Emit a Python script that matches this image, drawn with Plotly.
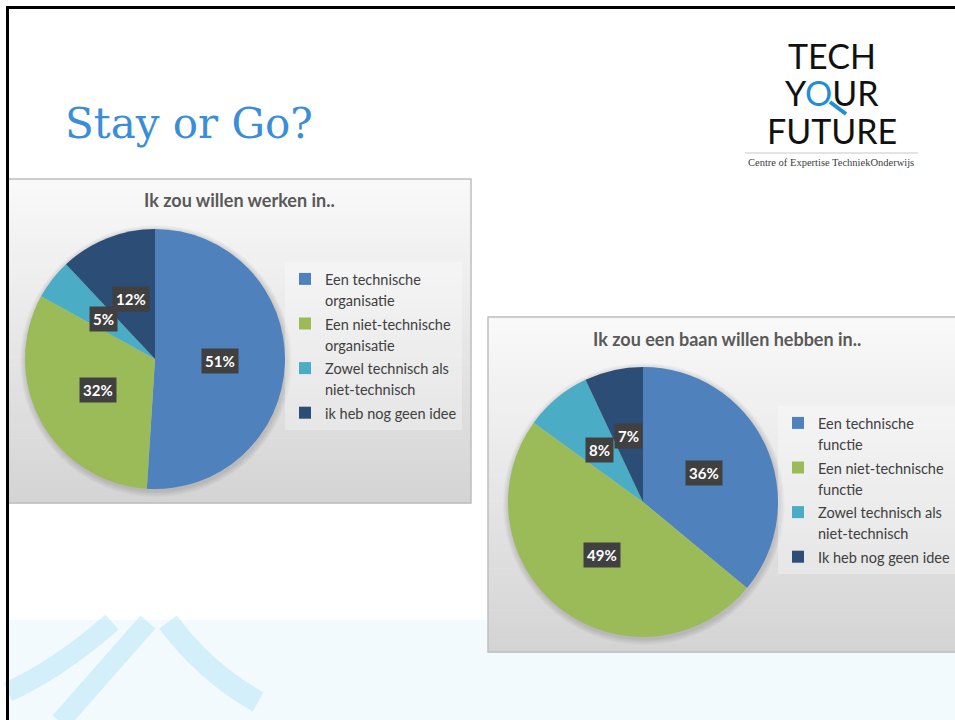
import math
import plotly.graph_objects as go

W, H = 955, 720

# Chart data
slide_title = "Stay or Go?"

title_1 = "Ik zou willen werken in.."
labels_1 = [
    "Een technische<br>organisatie",
    "Een niet-technische<br>organisatie",
    "Zowel technisch als<br>niet-technisch",
    "ik heb nog geen idee",
]
values_1 = [51, 32, 5, 12]

title_2 = "Ik zou een baan willen hebben in.."
labels_2 = [
    "Een technische<br>functie",
    "Een niet-technische<br>functie",
    "Zowel technisch als<br>niet-technisch\u200b",  # zero-width char keeps it distinct from chart 1
    "Ik heb nog geen idee",
]
values_2 = [36, 49, 8, 7]

colors = ["#4F81BD", "#9BBB59", "#4BACC6", "#2C4D75"]

logo_lines = ["TECH", "Y<span style='color:#1E8FD2'>O</span>UR", "FUTURE"]
logo_tagline = "Centre of Expertise TechniekOnderwijs"


# pixel -> paper helpers (margins are zero, so paper == page)
def px(x):
    return x / W


def py(y):
    return 1 - y / H


def rect(x0, y0, x1, y1, **kw):
    return dict(type="rect", xref="paper", yref="paper",
                x0=px(x0), x1=px(x1), y0=py(y0), y1=py(y1), **kw)


def circle(cx, cy, r, **kw):
    return dict(type="circle", xref="paper", yref="paper",
                x0=px(cx - r), x1=px(cx + r), y0=py(cy + r), y1=py(cy - r), **kw)


def text(x, y, t, size, color, family="Lato", **kw):
    d = dict(x=px(x), y=py(y), xref="paper", yref="paper", showarrow=False,
             xanchor="center", yanchor="middle", text=t,
             font=dict(family=family, size=size, color=color))
    d.update(kw)
    return d


# Vertical gradient panel made of thin bands
def gradient_panel(x0, y0, x1, y1, top=(249, 249, 249), bottom=(212, 212, 212), n=40):
    shapes = []
    h = (y1 - y0) / n
    for i in range(n):
        t = i / (n - 1)
        c = [round(top[k] + (bottom[k] - top[k]) * t) for k in range(3)]
        shapes.append(rect(x0, y0 + i * h, x1, y0 + (i + 1) * h + 0.5,
                           fillcolor="rgb(%d,%d,%d)" % tuple(c),
                           line=dict(width=0), layer="below"))
    shapes.append(rect(x0, y0, x1, y1, line=dict(color="#BFBFBF", width=1.5),
                       fillcolor="rgba(0,0,0,0)", layer="below"))
    return shapes


def pie_shadow(cx, cy, r):
    return [circle(cx + 1, cy + 2, r + k, fillcolor="rgba(0,0,0,0.025)",
                   line=dict(width=0), layer="below") for k in range(6, 0, -1)]


# Percent label positions at half radius in the middle of each slice
def pct_labels(values, cx, cy, r):
    total = sum(values)
    cum = 0
    out = []
    for v in values:
        mid = (cum + v / 2) / total * 2 * math.pi
        out.append(text(cx + 0.5 * r * math.sin(mid), cy - 0.5 * r * math.cos(mid),
                        "<b>%d%%</b>" % round(v / total * 100), 15, "white",
                        bgcolor="#404040", borderpad=3))
        cum += v
    return out


def legend_label(s):
    sp = "<span style='font-size:14.5px'>"
    return sp + s.replace("<br>", "</span><br>" + sp) + "</span>"


panel_1 = (8, 179, 471, 503)
panel_2 = (488, 317, 962, 652)
pie_1 = (155, 359, 130)
pie_2 = (643, 502, 135)


def domain(cx, cy, r):
    return dict(x=[px(cx - r), px(cx + r)], y=[py(cy + r), py(cy - r)])


fig = go.Figure()
fig.add_trace(go.Pie(
    labels=[legend_label(s) for s in labels_1], values=values_1, sort=False,
    direction="clockwise", marker=dict(colors=colors, line=dict(width=0)),
    textinfo="none", domain=domain(*pie_1), legend="legend",
))
fig.add_trace(go.Pie(
    labels=[legend_label(s) for s in labels_2], values=values_2, sort=False,
    direction="clockwise", marker=dict(colors=colors, line=dict(width=0)),
    textinfo="none", domain=domain(*pie_2), legend="legend2",
))

shapes = []
# faint watermark strip at the bottom
shapes.append(rect(8, 620, 955, 720, fillcolor="#F3FAFE", line=dict(width=0), layer="below"))
arch = "rgba(160,220,245,0.38)"
for (a, b, c, w) in [
    ((8, 692), (60, 668), (112, 622), 20),
    ((60, 722), (110, 665), (148, 622), 20),
    ((168, 622), (205, 672), (258, 702), 22),
]:
    shapes.append(dict(type="path", xref="paper", yref="paper", layer="below",
                       path="M %f %f Q %f %f %f %f" % (px(a[0]), py(a[1]), px(b[0]), py(b[1]), px(c[0]), py(c[1])),
                       line=dict(color=arch, width=w)))

shapes += gradient_panel(*panel_1)
shapes += pie_shadow(*pie_1)
shapes += gradient_panel(*panel_2)
shapes += pie_shadow(*pie_2)

# slide frame
shapes.append(dict(type="line", xref="paper", yref="paper", x0=px(6), x1=px(955),
                   y0=py(7.5), y1=py(7.5), line=dict(color="black", width=3)))
shapes.append(dict(type="line", xref="paper", yref="paper", x0=px(7.5), x1=px(7.5),
                   y0=py(6), y1=py(720), line=dict(color="black", width=3)))

# logo rule and magnifier handle
shapes.append(dict(type="line", xref="paper", yref="paper", x0=px(745), x1=px(918),
                   y0=py(153), y1=py(153), line=dict(color="#C8C8C8", width=1)))
shapes.append(dict(type="line", xref="paper", yref="paper", x0=px(830), x1=px(846),
                   y0=py(102), y1=py(114), line=dict(color="#1E8FD2", width=4)))

annotations = [text(63, 123, slide_title, 42, "#3A8ED8", family="DejaVu Serif", xanchor="left")]
for i, t in enumerate(logo_lines):
    annotations.append(text(832, 56 + i * 37, t, 34, "#111111"))
annotations.append(text(831, 163, logo_tagline, 10.5, "#404040", family="Liberation Serif"))
annotations.append(text(239, 200, "<b>%s</b>" % title_1, 18, "#595959"))
annotations.append(text(727, 339, "<b>%s</b>" % title_2, 18, "#595959"))
annotations += pct_labels(values_1, *pie_1)
annotations += pct_labels(values_2, *pie_2)

legend_style = dict(font=dict(family="Lato", size=16, color="#404040"),
                    bgcolor="rgba(255,255,255,0.3)", valign="top",
                    xanchor="left", yanchor="top", xref="paper", yref="paper")

fig.update_layout(
    width=W, height=H,
    margin=dict(l=0, r=0, t=0, b=0),
    paper_bgcolor="white", plot_bgcolor="white",
    shapes=shapes, annotations=annotations,
    legend=dict(x=px(285), y=py(262), **legend_style),
    legend2=dict(x=px(778), y=py(406), **legend_style),
)

fig.write_html("out.html", config={"displayModeBar": False},
               post_script="document.body.style.margin='0';")
